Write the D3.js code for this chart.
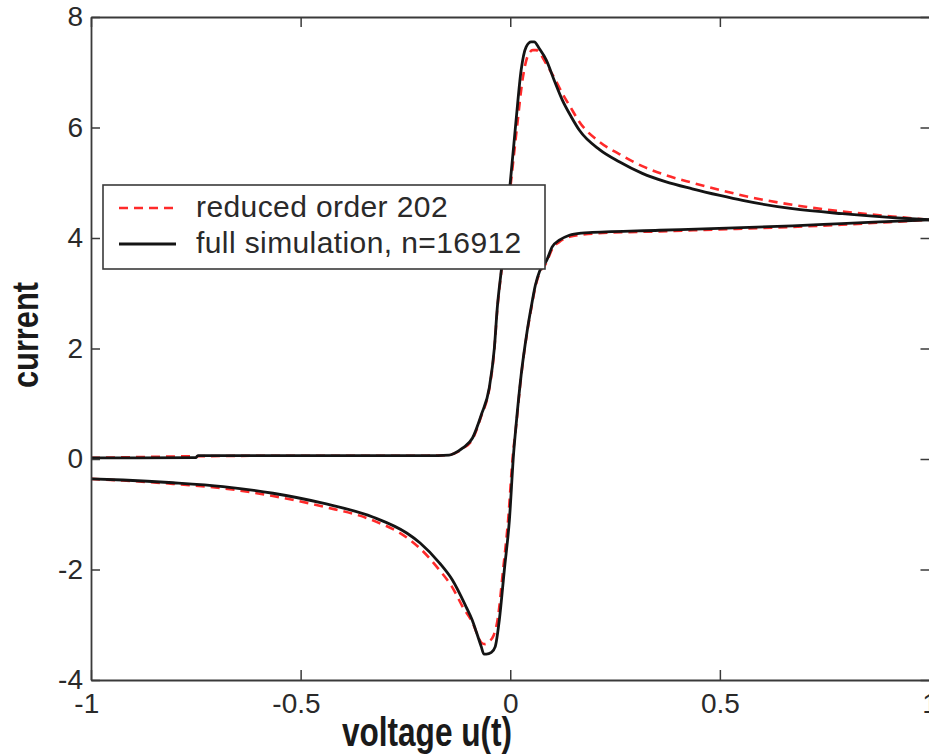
<!DOCTYPE html>
<html>
<head>
<meta charset="utf-8">
<script src="https://cdn.jsdelivr.net/npm/d3@7"></script>
<style>
  html, body { margin: 0; padding: 0; background: #fff; }
  svg { display: block; }
  text { font-family: "Liberation Sans", Arial, Helvetica, sans-serif; }
</style>
</head>
<body>
<svg id="chart" width="929" height="755"></svg>
<script>
// ---- Data ----
const xTicks = [-1, -0.5, 0, 0.5, 1];
const yTicks = [-4, -2, 0, 2, 4, 6, 8];
const seriesNames = ["reduced order 202", "full simulation, n=16912"];

// full simulation, forward sweep
const fullFwdU = [-1, -0.75, -0.745, -0.5, -0.3, -0.2, -0.146, -0.134, -0.113, -0.09, -0.069, -0.05, -0.038, -0.031, -0.02, -0.01, 0, 0.014, 0.026, 0.038, 0.05, 0.057, 0.07, 0.086, 0.105, 0.124, 0.145, 0.165, 0.213, 0.26, 0.315, 0.37, 0.434, 0.5, 0.554, 0.673, 0.792, 0.912, 1];
const fullFwdI = [0.02, 0.025, 0.06, 0.06, 0.06, 0.06, 0.07, 0.1, 0.2, 0.38, 0.8, 1.29, 2.0, 2.73, 3.51, 4.3, 5.0, 6.14, 7.04, 7.46, 7.55, 7.55, 7.42, 7.22, 6.85, 6.5, 6.2, 5.95, 5.6, 5.38, 5.17, 5.02, 4.89, 4.77, 4.68, 4.53, 4.44, 4.37, 4.33];
// full simulation, reverse sweep
const fullRevU = [1, 0.91, 0.79, 0.673, 0.516, 0.356, 0.196, 0.17, 0.141, 0.117, 0.1, 0.086, 0.07, 0.06, 0.05, 0.04, 0.026, 0.014, 0.008, -0.002, -0.014, -0.026, -0.036, -0.045, -0.057, -0.063, -0.069, -0.08, -0.091, -0.105, -0.138, -0.169, -0.215, -0.247, -0.328, -0.447, -0.566, -0.685, -0.804, -0.924, -1];
const fullRevI = [4.33, 4.3, 4.26, 4.22, 4.18, 4.14, 4.1, 4.09, 4.05, 3.96, 3.84, 3.58, 3.4, 3.15, 2.75, 2.3, 1.52, 0.62, 0.1, -1.1, -2.0, -2.91, -3.4, -3.5, -3.53, -3.53, -3.4, -3.15, -2.91, -2.68, -2.19, -1.88, -1.52, -1.34, -1.05, -0.8, -0.62, -0.5, -0.43, -0.38, -0.36];

// reduced order model, forward sweep
const redFwdU = [-1, -0.75, -0.5, -0.3, -0.2, -0.146, -0.134, -0.113, -0.09, -0.069, -0.05, -0.038, -0.031, -0.02, -0.01, 0, 0.016, 0.03, 0.042, 0.054, 0.062, 0.072, 0.086, 0.105, 0.124, 0.145, 0.165, 0.213, 0.26, 0.315, 0.37, 0.434, 0.5, 0.554, 0.673, 0.792, 0.912, 1];
const redFwdI = [0.02, 0.05, 0.06, 0.06, 0.06, 0.07, 0.1, 0.19, 0.36, 0.78, 1.27, 1.98, 2.7, 3.48, 4.25, 4.9, 6.0, 6.9, 7.3, 7.4, 7.4, 7.33, 7.15, 6.9, 6.62, 6.35, 6.1, 5.74, 5.52, 5.3, 5.14, 5.0, 4.87, 4.77, 4.6, 4.48, 4.39, 4.33];
// reduced order model, reverse sweep
const redRevU = [1, 0.91, 0.79, 0.673, 0.516, 0.356, 0.196, 0.17, 0.141, 0.117, 0.1, 0.086, 0.07, 0.06, 0.05, 0.04, 0.026, 0.014, 0.006, -0.005, -0.017, -0.03, -0.04, -0.05, -0.06, -0.068, -0.075, -0.085, -0.096, -0.11, -0.14, -0.17, -0.215, -0.247, -0.328, -0.447, -0.566, -0.685, -0.804, -0.924, -1];
const redRevI = [4.33, 4.29, 4.24, 4.2, 4.16, 4.12, 4.08, 4.06, 4.02, 3.93, 3.8, 3.55, 3.37, 3.12, 2.72, 2.28, 1.5, 0.6, 0.05, -1.1, -2.0, -2.9, -3.2, -3.3, -3.35, -3.33, -3.25, -3.05, -2.88, -2.72, -2.3, -2.0, -1.62, -1.42, -1.11, -0.86, -0.67, -0.53, -0.45, -0.39, -0.36];

// ---- Layout ----
const svg = d3.select("#chart");
const L = 91, R = 929.5, T = 17, B = 680;
const x = d3.scaleLinear().domain([-1, 1]).range([L, R]);
const y = d3.scaleLinear().domain([-4, 8]).range([B, T]);
const fmt = d => String(d);

const zip = (us, is) => us.map((u, k) => [u, is[k]]).sort((a, b) => a[0] - b[0]);
const line = d3.line().x(d => x(d[0])).y(d => y(d[1])).curve(d3.curveMonotoneX);

const plot = svg.append("g");
const red = "#ff2a2a", blk = "#141414";
[[redFwdU, redFwdI], [redRevU, redRevI]].forEach(([u, i]) => {
  plot.append("path").datum(zip(u, i)).attr("d", line)
    .attr("fill", "none").attr("stroke", red).attr("stroke-width", 2.6)
    .attr("stroke-dasharray", "9,6");
});
[[fullFwdU, fullFwdI], [fullRevU, fullRevI]].forEach(([u, i]) => {
  plot.append("path").datum(zip(u, i)).attr("d", line)
    .attr("fill", "none").attr("stroke", blk).attr("stroke-width", 2.8)
    .attr("stroke-linejoin", "round");
});

// ---- Axes (ticks inward, all four sides) ----
function styleAxis(g) {
  g.select(".domain").attr("stroke", "#3a3a3a").attr("stroke-width", 1.8);
  g.selectAll(".tick line").attr("stroke", "#3a3a3a").attr("stroke-width", 1.5);
  g.selectAll(".tick text").attr("fill", "#2a2a2a")
    .style("font-size", "28px").style("font-family", "'Liberation Sans', Arial, sans-serif");
}
const gB = svg.append("g").attr("transform", `translate(0,${B})`)
  .call(d3.axisBottom(x).tickValues(xTicks).tickFormat(fmt).tickSize(-10).tickSizeOuter(0).tickPadding(13))
  .call(styleAxis);
gB.selectAll(".tick text").attr("dx", d => d < 0 ? -4.7 : 0);
svg.append("g").attr("transform", `translate(0,${T})`)
  .call(d3.axisTop(x).tickValues(xTicks).tickFormat("").tickSize(-10).tickSizeOuter(0))
  .call(styleAxis);
svg.append("g").attr("transform", `translate(${L},0)`)
  .call(d3.axisLeft(y).tickValues(yTicks).tickFormat(fmt).tickSize(-9).tickSizeOuter(0).tickPadding(8))
  .call(styleAxis);
svg.append("g").attr("transform", `translate(${R},0)`)
  .call(d3.axisRight(y).tickValues(yTicks).tickFormat("").tickSize(-9).tickSizeOuter(0))
  .call(styleAxis);

// ---- Axis labels ----
svg.append("g").attr("transform", "translate(427,746) scale(0.79,1)")
  .append("text").attr("text-anchor", "middle")
  .style("font-size", "40px").style("font-weight", "bold").attr("fill", "#1a1a1a")
  .text("voltage u(t)");
svg.append("g").attr("transform", "translate(38,335) rotate(-90) scale(0.855,1)")
  .append("text").attr("text-anchor", "middle")
  .style("font-size", "36px").style("font-weight", "bold").attr("fill", "#1a1a1a")
  .text("current");

// ---- Legend ----
const lg = svg.append("g");
lg.append("rect").attr("x", 103).attr("y", 185).attr("width", 442).attr("height", 84)
  .attr("fill", "#fff").attr("stroke", "#3a3a3a").attr("stroke-width", 1.6);
const legendRows = [
  { name: seriesNames[0], color: red, dash: "9,6", w: 2.6, yl: 208, yt: 217 },
  { name: seriesNames[1], color: blk, dash: null, w: 2.8, yl: 244, yt: 253 }
];
legendRows.forEach(r => {
  lg.append("line").attr("x1", 119).attr("x2", 176).attr("y1", r.yl).attr("y2", r.yl)
    .attr("stroke", r.color).attr("stroke-width", r.w).attr("stroke-dasharray", r.dash);
  lg.append("text").attr("x", 196).attr("y", r.yt).attr("fill", "#2a2a2a")
    .style("font-size", "30px").style("letter-spacing", "0.4px").text(r.name);
});
</script>
</body>
</html>
